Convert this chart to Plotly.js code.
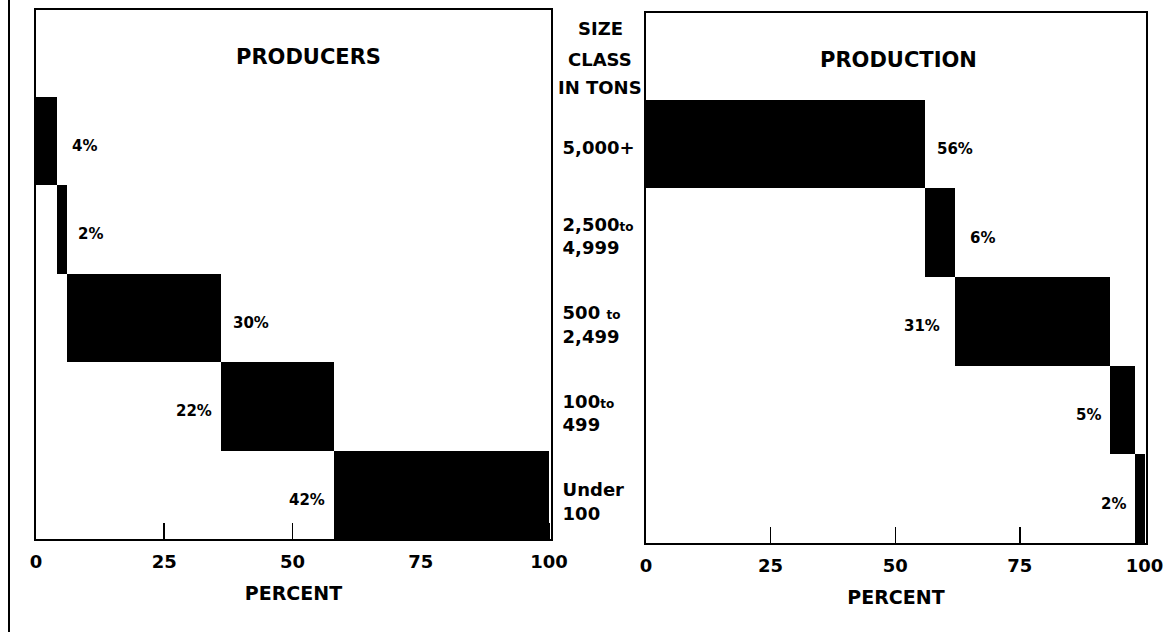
<!DOCTYPE html>
<html>
<head>
<meta charset="utf-8">
<script src="https://cdn.plot.ly/plotly-3.0.1.min.js"></script>
<style>
  html, body { margin: 0; padding: 0; background: #ffffff; }
  #chart { width: 1172px; height: 632px; }
</style>
</head>
<body>
<div id="chart"></div>
<script>
// ---- data ----
const sizeClasses = ['5,000+', '2,500 to 4,999', '500 to 2,499', '100 to 499', 'Under 100'];
const sizeTickLabels = [
  '5,000+',
  '2,500<span style="font-size:12px">to</span><br>4,999',
  '500 <span style="font-size:12px">to</span><br>2,499',
  '100<span style="font-size:12px">to</span><br>499',
  'Under<br>100'
];
const producersPct = [4, 2, 30, 22, 42];
const productionPct = [56, 6, 31, 5, 2];
const xTickVals = [0, 25, 50, 75, 100];
const xTickText = ['0', '25', '50', '75', '100'];
const panelTitles = ['PRODUCERS', 'PRODUCTION'];
const columnHeading = ['SIZE', 'CLASS', 'IN TONS'];
const axisTitle = 'PERCENT';

// ---- helpers ----
function cumulativeBase(vals) {
  const out = []; let s = 0;
  vals.forEach(v => { out.push(s); s += v; });
  return out;
}
const W = 1172, H = 632;
const px = x => x / W;
const py = y => 1 - y / H;
const FONT = 'DejaVu Sans, sans-serif';

const prodBase = cumulativeBase(producersPct);
const outBase = cumulativeBase(productionPct);

const traces = [
  {
    type: 'bar', orientation: 'h',
    y: sizeClasses, x: producersPct, base: prodBase,
    width: 1, marker: { color: '#000', line: { width: 0 } },
    xaxis: 'x', yaxis: 'y', hoverinfo: 'skip', showlegend: false
  },
  {
    type: 'bar', orientation: 'h',
    y: sizeClasses, x: productionPct, base: outBase,
    width: 1, marker: { color: '#000', line: { width: 0 } },
    xaxis: 'x2', yaxis: 'y2', hoverinfo: 'skip', showlegend: false
  }
];

// label placement (style): which side of the bar the percentage sits on
const prodSide = ['r', 'r', 'r', 'l', 'l'];
const outSide = ['r', 'r', 'l', 'l', 'l'];
const prodGap = [13, 9, 10, 7, 7];
const outGap = [10, 13, 13, 7, 7];

const annotations = [];
function pctLabels(vals, base, side, gap, xr, yr) {
  vals.forEach((v, i) => {
    const right = side[i] === 'r';
    annotations.push({
      xref: xr, yref: yr,
      x: right ? base[i] + v : base[i],
      y: sizeClasses[i],
      text: v + '%',
      showarrow: false,
      xanchor: right ? 'left' : 'right',
      yanchor: 'middle',
      xshift: right ? gap[i] : -gap[i],
      yshift: -5,
      font: { family: FONT, size: 15, color: '#000', weight: 'bold' }
    });
  });
}
pctLabels(producersPct, prodBase, prodSide, prodGap, 'x', 'y');
pctLabels(productionPct, outBase, outSide, outGap, 'x2', 'y2');

annotations.push({
  xref: 'paper', yref: 'paper', x: px(308), y: py(57), text: panelTitles[0],
  showarrow: false, xanchor: 'center', yanchor: 'middle',
  font: { family: FONT, size: 21, color: '#000', weight: 'bold' }
});
annotations.push({
  xref: 'paper', yref: 'paper', x: px(898), y: py(60), text: panelTitles[1],
  showarrow: false, xanchor: 'center', yanchor: 'middle',
  font: { family: FONT, size: 21, color: '#000', weight: 'bold' }
});
const headY = [28, 59, 88];
columnHeading.forEach((t, i) => {
  annotations.push({
    xref: 'paper', yref: 'paper', x: px(600), y: py(headY[i]), text: t,
    showarrow: false, xanchor: 'center', yanchor: 'middle',
    font: { family: FONT, size: 18, color: '#000', weight: 'bold' }
  });
});

const xCommon = {
  tickmode: 'array', tickvals: xTickVals, ticktext: xTickText,
  ticks: 'inside', ticklen: 16, tickwidth: 1.5, tickcolor: '#000',
  showline: true, linecolor: '#000', linewidth: 2, mirror: true,
  showgrid: false, zeroline: false, layer: 'below traces',
  ticklabelstandoff: 5,
  tickfont: { family: FONT, size: 18, color: '#000', weight: 'bold' },
  title: { text: axisTitle, standoff: 16,
           font: { family: FONT, size: 19, color: '#000', weight: 'bold' } },
  fixedrange: true, automargin: false
};

const catOrder = sizeClasses.slice().reverse();

const layout = {
  width: W, height: H,
  margin: { l: 0, r: 0, t: 0, b: 0 },
  paper_bgcolor: '#fff', plot_bgcolor: '#fff',
  bargap: 0, barmode: 'overlay',
  xaxis: Object.assign({}, xCommon, {
    domain: [px(36), px(551)], range: [0, 100.4], anchor: 'y'
  }),
  xaxis2: Object.assign({}, xCommon, {
    domain: [px(646), px(1146)], range: [0, 100.3], anchor: 'y2'
  }),
  yaxis: {
    domain: [py(539), py(10)], anchor: 'x',
    type: 'category', categoryorder: 'array', categoryarray: catOrder,
    range: [-0.5, 5.48],
    side: 'right', tickmode: 'array', tickvals: sizeClasses, ticktext: sizeTickLabels,
    ticks: '', ticklabelstandoff: 6, ticklabelshift: 7,
    tickfont: { family: FONT, size: 18, color: '#000', weight: 'bold' },
    showline: true, linecolor: '#000', linewidth: 2, mirror: true,
    showgrid: false, zeroline: false, fixedrange: true, automargin: false
  },
  yaxis2: {
    domain: [py(543), py(13)], anchor: 'x2',
    type: 'category', categoryorder: 'array', categoryarray: catOrder,
    range: [-0.5, 5.48],
    showticklabels: false, ticks: '',
    showline: true, linecolor: '#000', linewidth: 2, mirror: true,
    showgrid: false, zeroline: false, fixedrange: true, automargin: false
  },
  annotations: annotations,
  shapes: [
    { type: 'line', xref: 'paper', yref: 'paper', x0: px(9), x1: px(9), y0: 0, y1: 1,
      line: { color: '#000', width: 2 } }
  ]
};

Plotly.newPlot('chart', traces, layout, { displayModeBar: false, staticPlot: true });
</script>
</body>
</html>
